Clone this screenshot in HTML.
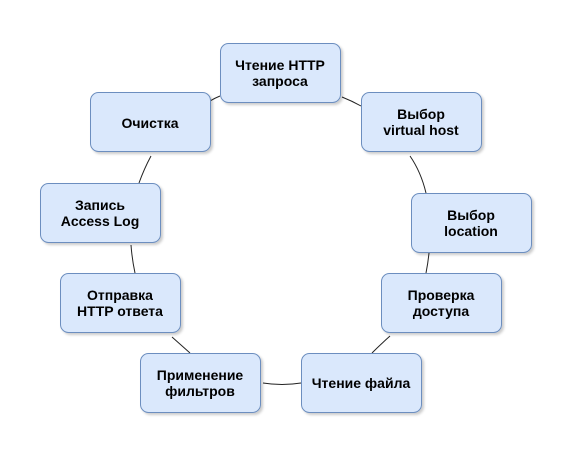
<!DOCTYPE html>
<html><head><meta charset="utf-8"><style>
body{margin:0;background:#fff;width:588px;height:470px;overflow:hidden}
svg text{font-family:"Liberation Sans",sans-serif;font-weight:bold;font-size:14px;fill:#000;text-anchor:middle}
</style></head><body>
<svg width="588" height="470" viewBox="0 0 588 470">
<defs><filter id="s" x="-10%" y="-10%" width="130%" height="130%"><feDropShadow dx="2" dy="2" stdDeviation="1.2" flood-color="#000" flood-opacity="0.2"/></filter></defs>
<g fill="none" stroke="#222" stroke-width="1">
<path d="M220,96 Q215,98 210,101"/>
<path d="M342,97 Q352,101 361,106"/>
<path d="M410,156 Q421,172 426,193"/>
<path d="M429,253 Q428,263 426,273"/>
<path d="M390,336 Q381,344 372,353"/>
<path d="M301,383 Q282,386 263,383"/>
<path d="M190,353 Q181,345 172,337"/>
<path d="M135,273 Q132,259 131,245"/>
<path d="M139,183 Q144,169 151,156"/>
</g>
<g fill="#dae8fc" stroke="#6c8ebf" stroke-width="1" filter="url(#s)">
<rect x="220.5" y="43.5" width="120" height="59" rx="8"/>
<rect x="90.5" y="92.5" width="120" height="59" rx="8"/>
<rect x="361.5" y="92.5" width="120" height="59" rx="8"/>
<rect x="40.5" y="183.5" width="120" height="59" rx="8"/>
<rect x="411.5" y="193.5" width="120" height="59" rx="8"/>
<rect x="60.5" y="273.5" width="120" height="59" rx="8"/>
<rect x="381.5" y="273.5" width="120" height="59" rx="8"/>
<rect x="140.5" y="353.5" width="120" height="59" rx="8"/>
<rect x="301.5" y="353.5" width="120" height="59" rx="8"/>
</g>
<text x="280" y="70">Чтение HTTP</text><text x="280" y="86">запроса</text>
<text x="150" y="128">Очистка</text>
<text x="421" y="119">Выбор</text><text x="421" y="135">virtual host</text>
<text x="100" y="210">Запись</text><text x="100" y="226">Access Log</text>
<text x="471" y="220">Выбор</text><text x="471" y="236">location</text>
<text x="120" y="300">Отправка</text><text x="120" y="316">HTTP ответа</text>
<text x="441" y="300">Проверка</text><text x="441" y="316">доступа</text>
<text x="200" y="380">Применение</text><text x="200" y="396">фильтров</text>
<text x="361" y="388">Чтение файла</text>
</svg>
</body></html>
